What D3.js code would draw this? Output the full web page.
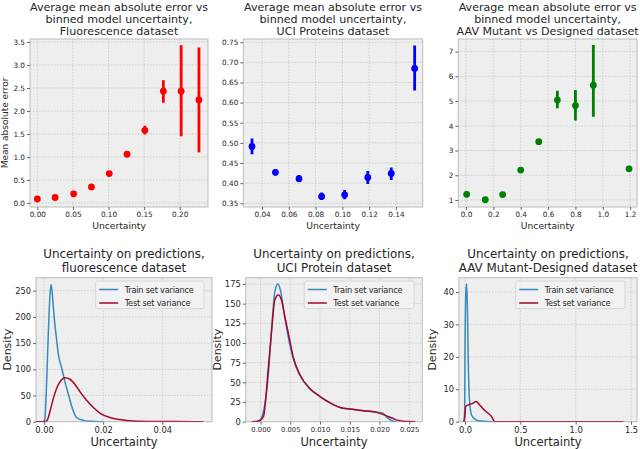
<!DOCTYPE html>
<html><head><meta charset="utf-8">
<script src="https://cdn.jsdelivr.net/npm/d3@7"></script>
<style>body{margin:0;background:#fff}svg{display:block;font-family:"DejaVu Sans",sans-serif}</style>
</head><body><svg id="c" width="640" height="449"></svg>
<script>
// ---- data: top row (binned MAE vs uncertainty) ----
const fluoX  = [0.000, 0.025, 0.051, 0.076, 0.101, 0.126, 0.151, 0.177, 0.202, 0.227];
const fluoY  = [0.087, 0.12, 0.20, 0.35, 0.64, 1.06, 1.58, 2.43, 2.43, 2.24];
const fluoLo = [0.07, 0.10, 0.18, 0.33, 0.62, 1.04, 1.49, 2.18, 1.45, 1.10];
const fluoHi = [0.10, 0.14, 0.22, 0.37, 0.66, 1.08, 1.68, 2.67, 3.43, 3.38];

const uciX  = [0.0325, 0.050, 0.0676, 0.0845, 0.1017, 0.119, 0.1365, 0.154];
const uciY  = [0.491, 0.427, 0.411, 0.367, 0.371, 0.414, 0.424, 0.685];
const uciLo = [0.472, 0.419, 0.404, 0.358, 0.360, 0.398, 0.408, 0.630];
const uciHi = [0.511, 0.434, 0.420, 0.377, 0.383, 0.430, 0.439, 0.742];

const aavX  = [0.005, 0.141, 0.268, 0.400, 0.532, 0.668, 0.800, 0.931, 1.192];
const aavY  = [1.23, 1.01, 1.22, 2.21, 3.36, 5.04, 4.82, 5.64, 2.26];
const aavLo = [1.11, 1.00, 1.20, 2.19, 3.34, 4.71, 4.21, 4.37, 2.24];
const aavHi = [1.34, 1.02, 1.24, 2.23, 3.38, 5.42, 5.45, 7.27, 2.28];

// ---- data: bottom row (density of uncertainty) ----
const fluoTrainX = [-0.0027, -0.0005, 0.0, 0.0003, 0.0008, 0.0015, 0.0020, 0.0024, 0.0028, 0.0032, 0.0036, 0.0041, 0.0049, 0.0060, 0.0071, 0.0083, 0.0094, 0.0110, 0.0133, 0.0160, 0.0190, 0.0200];
const fluoTrainY = [0, 0, 1, 5, 60, 175, 240, 262, 245, 216, 190, 165, 127, 102, 76, 51, 29, 8, 2.5, 0.8, 0.1, 0];
const fluoTestX = [-0.0027, 0.0005, 0.0009, 0.0014, 0.0020, 0.0032, 0.0043, 0.0054, 0.0071, 0.0088, 0.0105, 0.0122, 0.0144, 0.0167, 0.0190, 0.0223, 0.0257, 0.0302, 0.0358, 0.0450, 0.0538];
const fluoTestY = [0, 0, 1.5, 7, 19, 45, 64, 76, 84, 81, 71, 57, 41, 27, 16, 8, 4, 1.3, 0.5, 0.2, 0.1];

const uciTrainX = [-0.0007, -0.0001, 0.0003, 0.0007, 0.0013, 0.0019, 0.0024, 0.0029, 0.0034, 0.0040, 0.0047, 0.0055, 0.0066, 0.0083, 0.0100, 0.0117, 0.0134, 0.0151, 0.0173, 0.0195, 0.0205, 0.0212, 0.0220, 0.0225, 0.0229];
const uciTrainY = [0, 2, 8, 21, 59, 123, 165, 175, 165, 136, 106, 80, 59, 42, 32, 24, 18, 16, 14, 12, 11, 6, 1.5, 0.3, 0];
const uciTestX = [-0.0015, -0.0007, 0.0000, 0.0005, 0.0013, 0.0019, 0.0024, 0.0030, 0.0035, 0.0041, 0.0049, 0.0055, 0.0066, 0.0083, 0.0100, 0.0117, 0.0134, 0.0151, 0.0173, 0.0195, 0.0210, 0.0220, 0.0230, 0.0240, 0.0250, 0.0260];
const uciTestY = [0, 0.3, 2, 7, 68, 119, 155, 161, 155, 133, 104, 82, 60, 42, 32, 24, 18, 16, 14, 12, 8, 5, 2, 0.7, 0.2, 0];

const aavTrainX = [-0.010, -0.003, 0.000, 0.008, 0.015, 0.022, 0.030, 0.040, 0.060, 0.090, 0.120, 0.200, 0.250];
const aavTrainY = [0, 3, 20, 40, 42.5, 35, 18, 7, 2, 0.8, 0.3, 0.1, 0];
const aavTestX = [-0.010, 0.000, 0.006, 0.040, 0.073, 0.100, 0.130, 0.165, 0.210, 0.240, 0.270, 0.500, 1.000, 1.430];
const aavTestY = [0, 2, 4.7, 5.3, 5.7, 6.2, 5.3, 3.9, 2.6, 1.6, 0, 0, 0, 0];

// ---- tick labels ----
const fluoXTicks = [0, 0.05, 0.10, 0.15, 0.20];
const fluoYTicks = [0, 0.5, 1.0, 1.5, 2.0, 2.5, 3.0, 3.5];
const uciXTicks = [0.04, 0.06, 0.08, 0.10, 0.12, 0.14];
const uciYTicks = [0.35, 0.40, 0.45, 0.50, 0.55, 0.60, 0.65, 0.70, 0.75];
const aavXTicks = [0, 0.2, 0.4, 0.6, 0.8, 1.0, 1.2];
const aavYTicks = [1, 2, 3, 4, 5, 6, 7];
const dFluoXTicks = [0, 0.02, 0.04];
const dFluoYTicks = [0, 50, 100, 150, 200, 250];
const dUciXTicks = [0, 0.005, 0.010, 0.015, 0.020, 0.025];
const dUciYTicks = [0, 25, 50, 75, 100, 125, 150, 175];
const dAavXTicks = [0, 0.5, 1.0, 1.5];
const dAavYTicks = [0, 10, 20, 30, 40];

const svg = d3.select("#c");
const BG = "#eeeeee", GRID = "#b8b8b8", EDGE = "#bcbcbc", TXT = "#262626";
const BLUE = "#348ABD", RED = "#A60628";

function panel(o) {
  const x = d3.scaleLinear().domain(o.xd).range([o.l, o.r]);
  const y = d3.scaleLinear().domain(o.yd).range([o.b, o.t]);
  const g = svg.append("g");
  g.append("rect").attr("x", o.l).attr("y", o.t).attr("width", o.r - o.l).attr("height", o.b - o.t)
    .attr("fill", BG);
  // grid
  g.selectAll(null).data(o.xt).join("line").attr("x1", d => x(d)).attr("x2", d => x(d))
    .attr("y1", o.t).attr("y2", o.b).attr("stroke", GRID).attr("stroke-width", 0.6).attr("stroke-dasharray", "1.5,1.5");
  g.selectAll(null).data(o.yt).join("line").attr("y1", d => y(d)).attr("y2", d => y(d))
    .attr("x1", o.l).attr("x2", o.r).attr("stroke", GRID).attr("stroke-width", 0.6).attr("stroke-dasharray", "1.5,1.5");
  g.append("rect").attr("x", o.l).attr("y", o.t).attr("width", o.r - o.l).attr("height", o.b - o.t)
    .attr("fill", "none").attr("stroke", EDGE).attr("stroke-width", 1);
  // axes
  const ax = g.append("g").attr("transform", `translate(0,${o.b})`)
    .call(d3.axisBottom(x).tickValues(o.xt).tickFormat(d3.format(o.xf)).tickSize(3).tickPadding(2));
  const ay = g.append("g").attr("transform", `translate(${o.l},0)`)
    .call(d3.axisLeft(y).tickValues(o.yt).tickFormat(d3.format(o.yf)).tickSize(3).tickPadding(2));
  [ax, ay].forEach(a => {
    a.select(".domain").remove();
    a.selectAll("line").attr("stroke", "#444").attr("stroke-width", 0.8);
    a.selectAll("text").attr("fill", TXT).style("font-size", o.tickFs + "px").style("font-family", "DejaVu Sans");
  });
  if (o.xtFs) ax.selectAll("text").style("font-size", o.xtFs + "px");
  // titles
  o.title.forEach((s, i) => {
    g.append("text").attr("x", (o.l + o.r) / 2).attr("y", o.titleY + i * o.titleLh)
      .attr("text-anchor", "middle").attr("fill", TXT).style("font-size", o.titleFs + "px").text(s);
  });
  g.append("text").attr("x", (o.l + o.r) / 2).attr("y", o.xlabY).attr("text-anchor", "middle")
    .attr("fill", TXT).style("font-size", o.labFs + "px").text("Uncertainty");
  if (o.ylab) {
    g.append("text").attr("transform", `translate(${o.ylabX},${(o.t + o.b) / 2}) rotate(-90)`)
      .attr("text-anchor", "middle").attr("fill", TXT).style("font-size", o.ylabFs + "px").text(o.ylab);
  }
  const clip = "clip" + Math.round(o.l);
  svg.append("clipPath").attr("id", clip).append("rect").attr("x", o.l).attr("y", o.t)
    .attr("width", o.r - o.l).attr("height", o.b - o.t);
  const pg = g.append("g").attr("clip-path", `url(#${clip})`);
  return { x, y, g: pg, root: g };
}

function errPanel(o, xs, ys, lo, hi, color) {
  const p = panel(o);
  p.g.selectAll(null).data(xs).join("line")
    .attr("x1", d => p.x(d)).attr("x2", d => p.x(d))
    .attr("y1", (d, i) => p.y(lo[i])).attr("y2", (d, i) => p.y(hi[i]))
    .attr("stroke", color).attr("stroke-width", 2.8);
  p.g.selectAll(null).data(xs).join("circle")
    .attr("cx", d => p.x(d)).attr("cy", (d, i) => p.y(ys[i])).attr("r", 3.4).attr("fill", color);
}

function densPanel(o, tx, ty, sx, sy, legL, legR) {
  const p = panel(o);
  const line = (xs, ys) => d3.line().x((d, i) => p.x(xs[i])).y((d, i) => p.y(ys[i])).curve(d3.curveMonotoneX)(xs);
  p.g.append("path").attr("d", line(tx, ty)).attr("fill", "none").attr("stroke", BLUE).attr("stroke-width", 1.5);
  p.g.append("path").attr("d", line(sx, sy)).attr("fill", "none").attr("stroke", RED).attr("stroke-width", 1.5);
  const lg = p.root.append("g");
  lg.append("rect").attr("x", legL).attr("y", 281).attr("width", legR - legL).attr("height", 27.5).attr("rx", 2)
    .attr("fill", "#f2f2f2").attr("fill-opacity", 0.85).attr("stroke", "#d0d0d0").attr("stroke-width", 0.8);
  [["Train set variance", BLUE], ["Test set variance", RED]].forEach((e, i) => {
    const yy = 289.5 + i * 13.5;
    lg.append("line").attr("x1", legL + 3.5).attr("x2", legL + 22.5).attr("y1", yy).attr("y2", yy)
      .attr("stroke", e[1]).attr("stroke-width", 1.5);
    lg.append("text").attr("x", legL + 29).attr("y", yy + 3.2).attr("fill", TXT).style("font-size", "8.2px")
      .style("letter-spacing", "-0.2px").text(e[0]);
  });
}

const topCommon = { t: 39, b: 207, tickFs: 7.3, titleFs: 11.1, titleY: 10.7, titleLh: 12, labFs: 9.2, xlabY: 229 };
errPanel(Object.assign({}, topCommon, {
  l: 30, r: 208, xd: [-0.0103, 0.2397], yd: [-0.087, 3.565], xt: fluoXTicks, yt: fluoYTicks, xf: ".2f", yf: ".1f",
  title: ["Average mean absolute error vs", "binned model uncertainty,", "Fluorescence dataset"],
  ylab: "Mean absolute error", ylabX: 8, ylabFs: 9
}), fluoX, fluoY, fluoLo, fluoHi, "#ff0000");
errPanel(Object.assign({}, topCommon, {
  l: 243.3, r: 422.7, xd: [0.026, 0.16], yd: [0.3408, 0.758], xt: uciXTicks, yt: uciYTicks, xf: ".2f", yf: ".2f",
  title: ["Average mean absolute error vs", "binned model uncertainty,", "UCI Proteins dataset"]
}), uciX, uciY, uciLo, uciHi, "#0000ff");
errPanel(Object.assign({}, topCommon, {
  l: 458.3, r: 637, xd: [-0.056, 1.25], yd: [0.717, 7.51], xt: aavXTicks, yt: aavYTicks, xf: ".1f", yf: "d",
  title: ["Average mean absolute error vs", "binned model uncertainty,", "AAV Mutant vs Designed dataset"]
}), aavX, aavY, aavLo, aavHi, "#008000");

const botCommon = { t: 277.7, b: 421.7, tickFs: 8.3, titleFs: 11.9, titleY: 258.3, titleLh: 13.6, labFs: 11.5, xlabY: 446, ylab: "Density", ylabFs: 11 };
densPanel(Object.assign({}, botCommon, {
  l: 36, r: 212, xd: [-0.0027, 0.0568], yd: [0, 274.8], xt: dFluoXTicks, yt: dFluoYTicks, xf: ".2f", yf: "d",
  title: ["Uncertainty on predictions,", "fluorescence dataset"], ylabX: 11
}), fluoTrainX, fluoTrainY, fluoTestX, fluoTestY, 95.7, 204);
densPanel(Object.assign({}, botCommon, {
  l: 245.7, r: 422.3, xd: [-0.0025, 0.0272], yd: [0, 183], xt: dUciXTicks, yt: dUciYTicks, xf: ".3f", yf: "d", xtFs: 6.8,
  title: ["Uncertainty on predictions,", "UCI Protein dataset"], ylabX: 221
}), uciTrainX, uciTrainY, uciTestX, uciTestY, 304.3, 414);
densPanel(Object.assign({}, botCommon, {
  l: 459, r: 637, xd: [-0.054, 1.554], yd: [0, 44.4], xt: dAavXTicks, yt: dAavYTicks, xf: ".1f", yf: "d",
  title: ["Uncertainty on predictions,", "AAV Mutant-Designed dataset"], ylabX: 436
}), aavTrainX, aavTrainY, aavTestX, aavTestY, 515.7, 625);
</script></body></html>
